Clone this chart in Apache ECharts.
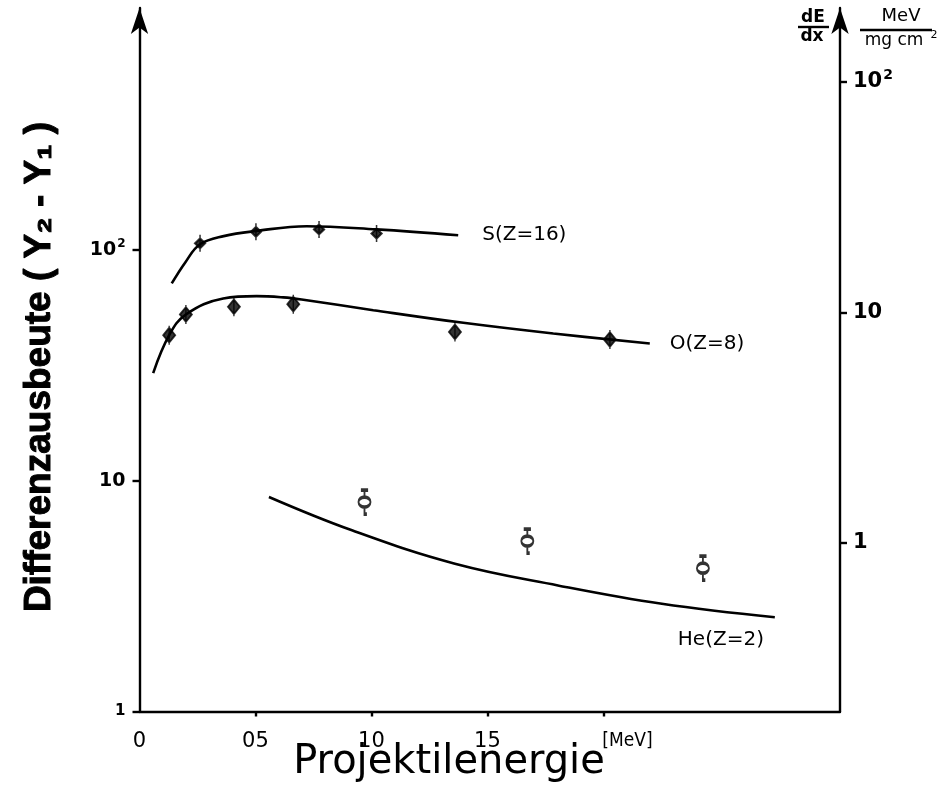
<!DOCTYPE html>
<html><head><meta charset="utf-8">
<script src="https://cdn.jsdelivr.net/npm/echarts@6/dist/echarts.min.js"></script>
<style>html,body{margin:0;padding:0;background:#fff}#c{width:946px;height:809px}</style>
</head><body><div id="c"></div>
<script>
// ---- axis ticks ----
const xTickValues = [0, 0.5, 1.0, 1.5, 2.0];
const xTickLabels = ['0', '05', '10', '15', '{u|[MeV]}'];
const leftTickValues = [1, 10, 100];
const leftTickLabels = ['{s|1}', '10', '10{sup|2}'];
const rightTickValues = [1, 10, 100];
const rightTickLabels = ['1', '10', '10{sup|2}'];

// ---- S (Z=16) ----
const sEnergy = [0.261, 0.502, 0.774, 1.022];
const sYield = [107, 120, 123, 118];
const sCurveEnergy = [0.139, 0.198, 0.261, 0.363, 0.502, 0.721, 1.022, 1.374];
const sCurveYield = [71.7, 88.7, 106, 115, 121, 127, 123, 116];

// ---- O (Z=8) ----
const oEnergy = [0.128, 0.200, 0.407, 0.663, 1.360, 2.028];
const oYield = [42.8, 52.6, 56.8, 58.3, 44.2, 41.0];
const oCurveEnergy = [0.059, 0.128, 0.200, 0.361, 0.505, 0.620, 0.699, 1.008, 1.396, 1.784, 2.200];
const oCurveYield = [29.3, 42.8, 52.6, 61.7, 63.2, 62.4, 61.1, 54.9, 48.4, 43.5, 39.4];

// ---- He (Z=2) ----
const heEnergy = [0.970, 1.672, 2.429];
const heYield = [8.09, 5.48, 4.18];
const heCurveEnergy = [0.558, 0.916, 1.360, 1.804, 2.252, 2.739];
const heCurveYield = [8.51, 6.10, 4.37, 3.52, 2.93, 2.56];

const seriesLabels = ['S(Z=16)', 'O(Z=8)', 'He(Z=2)'];

const zip = (a, b) => a.map((v, i) => [v, b[i]]);
const chart = echarts.init(document.getElementById('c'), null, {renderer: 'canvas'});

const labelFont = '"DejaVu Sans", sans-serif';
const lineStyle = {color: '#000', width: 2.6};

const heSymbol = 'path://M0,-12 L0,-5 M-3,-12 L3,-12 M-5,0 A5,5 0 1,1 5,0 A5,5 0 1,1 -5,0 Z M0,5 L0,12 L2,12';
const sSymbol = 'path://M0,-7 L0,7 M-4,0 L0,-4 L4,0 L0,4 Z';
const oSymbol = 'path://M0,-9 L0,9 M-5,0 L0,-7 L5,0 L0,7 Z';

const fmt = (vals, labels) => v => { const i = vals.findIndex(t => Math.abs(t - v) <= 1e-6 * Math.max(1, t)); return i >= 0 ? labels[i] : ''; };

const option = {
  backgroundColor: '#fff',
  animation: false,
  grid: {left: 139.5, right: 106, top: 8, bottom: 97.5},
  xAxis: {
    type: 'value', min: 0, max: 3.02,
    axisLine: {show: true, onZero: false, lineStyle: {color: '#000', width: 2.4}},
    axisTick: {show: true, customValues: xTickValues.slice(1), length: 5, lineStyle: {color: '#000', width: 2.4}},
    axisLabel: {
      customValues: xTickValues, margin: 20,
      fontFamily: labelFont, fontSize: 21, color: '#000',
      formatter: fmt(xTickValues, xTickLabels),
      rich: {u: {fontFamily: '"DejaVu Sans Condensed", "DejaVu Sans", sans-serif', fontSize: 19, color: '#000', padding: [0, 0, 0, 48]}}
    },
    splitLine: {show: false}
  },
  yAxis: [{
    type: 'log', logBase: 10, min: 1, max: 1121, position: 'left',
    axisLine: {show: true, lineStyle: {color: '#000', width: 2.4}, symbol: ['none', 'arrow'], symbolSize: [13, 26]},
    axisTick: {show: true, customValues: leftTickValues, length: 7, lineStyle: {color: '#000', width: 2.4}},
    axisLabel: {
      customValues: leftTickValues, margin: 14, color: '#000',
      fontFamily: labelFont, fontSize: 19, fontWeight: 'bold',
      formatter: fmt(leftTickValues, leftTickLabels),
      rich: {
        sup: {fontSize: 12, fontWeight: 'bold', fontFamily: labelFont, verticalAlign: 'top', padding: [0, 0, 12, 1]},
        s: {fontSize: 15, fontWeight: 'bold', fontFamily: labelFont}
      }
    },
    splitLine: {show: false}
  }, {
    type: 'log', logBase: 10, min: 0.186, max: 208.5, position: 'right',
    axisLine: {show: true, lineStyle: {color: '#000', width: 2.4}, symbol: ['none', 'arrow'], symbolSize: [13, 26]},
    axisTick: {show: true, customValues: rightTickValues, length: 7, lineStyle: {color: '#000', width: 2.4}},
    axisLabel: {
      customValues: rightTickValues, margin: 13, color: '#000',
      fontFamily: labelFont, fontSize: 21, fontWeight: 'bold',
      formatter: fmt(rightTickValues, rightTickLabels),
      rich: {sup: {fontSize: 14, fontWeight: 'bold', fontFamily: labelFont, verticalAlign: 'top', padding: [0, 0, 12, 1]}}
    },
    splitLine: {show: false}
  }],
  series: [
    {type: 'line', name: 'S curve', data: zip(sCurveEnergy, sCurveYield), showSymbol: false, smooth: 0.4, lineStyle,
     endLabel: {show: true, formatter: seriesLabels[0], distance: 24, fontFamily: labelFont, fontSize: 20, color: '#000'}},
    {type: 'line', name: 'O curve', data: zip(oCurveEnergy, oCurveYield), showSymbol: false, smooth: 0.4, lineStyle,
     endLabel: {show: true, formatter: seriesLabels[1], distance: 20, fontFamily: labelFont, fontSize: 20, color: '#000'}},
    {type: 'line', name: 'He curve', data: zip(heCurveEnergy, heCurveYield), showSymbol: false, smooth: 0.4, lineStyle,
     endLabel: {show: true, formatter: seriesLabels[2], distance: 0, offset: [-97, 22], fontFamily: labelFont, fontSize: 20, color: '#000'}},
    {type: 'scatter', name: 'S', data: zip(sEnergy, sYield), symbol: sSymbol, symbolSize: [10, 17],
     itemStyle: {color: '#000', borderColor: '#000', borderWidth: 2}},
    {type: 'scatter', name: 'O', data: zip(oEnergy, oYield), symbol: oSymbol, symbolSize: [12, 19],
     itemStyle: {color: '#000', borderColor: '#000', borderWidth: 1.8}},
    {type: 'scatter', name: 'He', data: zip(heEnergy, heYield), symbol: heSymbol, symbolSize: [12, 24],
     itemStyle: {color: '#fff', borderColor: '#000', borderWidth: 2.6}}
  ],
  graphic: [
    {type: 'text', x: 40, y: 367, rotation: Math.PI / 2,
     style: {text: 'Differenzausbeute ( Y₂ - Y₁ )', fill: '#000', font: 'bold 37px "Liberation Sans Narrow", sans-serif', align: 'center', verticalAlign: 'middle', stroke: '#000', lineWidth: 1}},
    {type: 'text', x: 449, y: 763,
     style: {text: 'Projektilenergie', fill: '#000', font: '40px "DejaVu Sans", sans-serif', align: 'center', verticalAlign: 'middle'}},
    {type: 'text', x: 813, y: 18, style: {text: 'dE', fill: '#000', font: 'bold 17px "DejaVu Sans", sans-serif', align: 'center', verticalAlign: 'middle'}},
    {type: 'line', shape: {x1: 798, y1: 27, x2: 829, y2: 27}, style: {stroke: '#000', lineWidth: 2.4}},
    {type: 'text', x: 812, y: 37, style: {text: 'dx', fill: '#000', font: 'bold 17px "DejaVu Sans", sans-serif', align: 'center', verticalAlign: 'middle'}},
    {type: 'text', x: 901, y: 16, style: {text: 'MeV', fill: '#000', font: '18px "DejaVu Sans", sans-serif', align: 'center', verticalAlign: 'middle'}},
    {type: 'line', shape: {x1: 860, y1: 30, x2: 932, y2: 30}, style: {stroke: '#000', lineWidth: 2.4}},
    {type: 'text', x: 894, y: 41, style: {text: 'mg cm', fill: '#000', font: '17px "DejaVu Sans", sans-serif', align: 'center', verticalAlign: 'middle'}},
    {type: 'text', x: 934, y: 35, style: {text: '2', fill: '#000', font: '11px "DejaVu Sans", sans-serif', align: 'center', verticalAlign: 'middle'}}
  ]
};
chart.setOption(option);
</script>
</body></html>
